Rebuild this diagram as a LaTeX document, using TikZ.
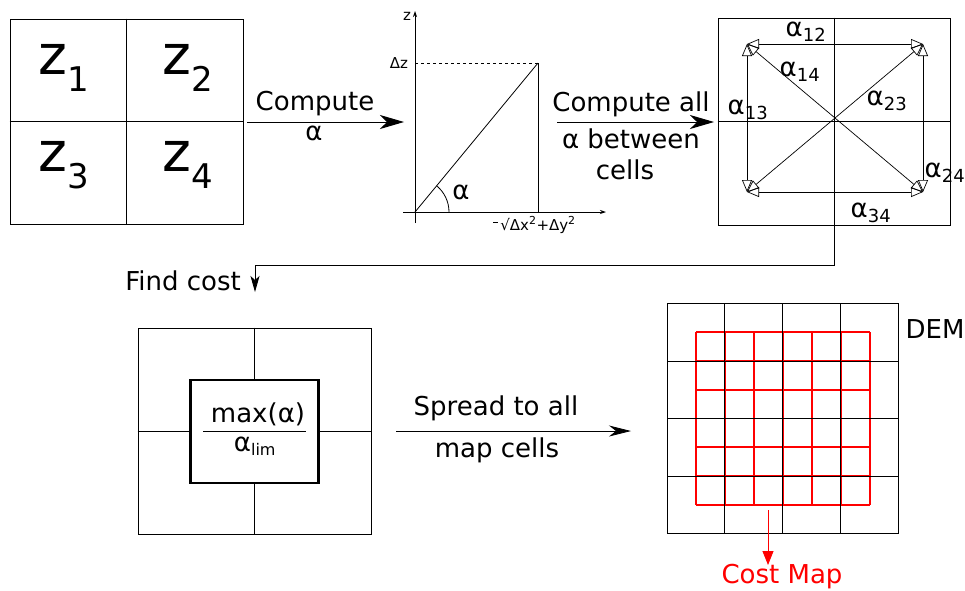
\documentclass[tikz,border=0pt]{standalone}
\usepackage{fontspec}
\setmainfont{DejaVu Sans}
\usetikzlibrary{arrows.meta,calc}
\newcommand{\fs}[1]{\fontsize{#1}{#1}\selectfont}
\begin{document}
\begin{tikzpicture}[x=1pt,y=-1pt,
  box/.style={draw,line width=0.9pt,inner sep=0pt,minimum width=#1},
  lbl/.style={font=\fs{26},inner sep=1pt},
  bigarrow/.style={line width=1pt,-{Stealth[length=24pt,width=14pt,inset=7pt]}},
  dbl/.style={line width=0.7pt,{Triangle[open,length=12pt,width=10pt]}-{Triangle[open,length=12pt,width=10pt]}},
  thin/.style={line width=0.8pt},
  redline/.style={draw=red,line width=1.8pt}]
\useasboundingbox (0,0) rectangle (965,590);
% ---------- top-left grid ----------
\node[box=233pt,minimum height=205pt] (g1) at (126.5,121.5) {};
\draw[thin] (g1.north) -- (g1.south);
\draw[thin] (g1.west) -- (g1.east);
\node[font=\fs{55},inner sep=0pt] (z1) at (64,68) {z\textsubscript{\fs{34}1}};
\node[font=\fs{55},inner sep=0pt] (z2) at (188,68) {z\textsubscript{\fs{34}2}};
\node[font=\fs{55},inner sep=0pt] (z3) at (64,165) {z\textsubscript{\fs{34}3}};
\node[font=\fs{55},inner sep=0pt] (z4) at (188,165) {z\textsubscript{\fs{34}4}};
% ---------- arrow 1 ----------
\coordinate (a1s) at (247,122);
\coordinate (a1e) at (404,122);
\draw[bigarrow] (a1s) -- (a1e);
\node[lbl] (t1) at (315,104) {Compute};
\node[lbl] (t2) at (314,133) {α};
% ---------- graph ----------
\coordinate (O) at (415,212);
\coordinate (P) at (538,63);
\coordinate (Px) at (538,212);
\coordinate (Pz) at (415,63);
\coordinate (zt) at (415,11);
\coordinate (zb) at (415,223);
\coordinate (xl) at (403,212);
\coordinate (xr) at (606,212);
\draw[thin,-{Stealth[length=6pt,width=4pt]}] (zb) -- (zt);
\draw[thin,-{Stealth[length=6pt,width=4pt]}] (xl) -- (xr);
\draw[thin,dashed] (Pz) -- (P);
\draw[thin] (P) -- (Px);
\draw[thin] (O) -- (P);
\draw[thin] ($(O)+(34,0)$) arc[start angle=0,end angle=-50.5,radius=34];
\node[font=\fs{15},inner sep=0pt] (zl) at (407,16) {z};
\node[font=\fs{15},inner sep=0pt] (dz) at (399,63) {Δz};
\node[font=\fs{26},inner sep=0pt] (al) at (461,192) {α};
\node[font=\fs{15},inner sep=0pt] (rad) at (538,225) {√Δx\textsuperscript{\fs{11}2}+Δy\textsuperscript{\fs{11}2}};
\draw[line width=0.6pt] (493,222) -- (498,222);
% ---------- arrow 2 ----------
\coordinate (a2s) at (557,122);
\coordinate (a2e) at (714,122);
\draw[bigarrow] (a2s) -- (a2e);
\node[lbl] (t3) at (631,104) {Compute all};
\node[lbl] (t4) at (631,139) {α between};
\node[lbl] (t5) at (625,170) {cells};
% ---------- top-right grid ----------
\node[box=232pt,minimum height=207pt] (g2) at (834,121.5) {};
\draw[thin] (g2.north) -- (g2.south);
\draw[thin] (g2.west) -- (g2.east);
\coordinate (c1) at (747,44);
\coordinate (c2) at (923,44);
\coordinate (c3) at (747,192);
\coordinate (c4) at (923,192);
\draw[dbl] (c1) -- (c2);
\draw[dbl] (c3) -- (c4);
\draw[dbl] (c1) -- (c3);
\draw[dbl] (c2) -- (c4);
\draw[dbl] (c1) -- (c4);
\draw[dbl] (c2) -- (c3);
\node[lbl] (a12) at (806,32) {α\textsubscript{\fs{18}12}};
\node[lbl] (a14) at (800,72) {α\textsubscript{\fs{18}14}};
\node[lbl] (a13) at (748,110) {α\textsubscript{\fs{18}13}};
\node[lbl] (a23) at (887,101) {α\textsubscript{\fs{18}23}};
\node[lbl] (a24) at (945,173) {α\textsubscript{\fs{18}24}};
\node[lbl] (a34) at (871,213) {α\textsubscript{\fs{18}34}};
% ---------- find cost connector ----------
\coordinate (fc) at (255,292);
\draw[thin,-{Stealth[length=16pt,width=9pt,inset=4pt]}] (g2.south) |- ($(fc)+(0,-27)$) -- (fc);
\node[lbl] (fct) at (183,281) {Find cost};
% ---------- bottom-left ----------
\node[box=233pt,minimum height=206pt] (g3) at (254.5,431) {};
\draw[thin] (g3.north) -- (g3.south);
\draw[thin] (g3.west) -- (g3.east);
\node[draw,line width=2.2pt,fill=white,minimum width=128pt,minimum height=103pt,inner sep=0pt] (cb) at (254.5,431.5) {};
\draw[thin] (203,431.5) -- (306,431.5);
\node[lbl] (mx) at (258,414) {max(α)};
\node[lbl] (al2) at (255,446) {α\textsubscript{\fs{16}lim}};
% ---------- arrow 3 ----------
\coordinate (a3s) at (396,431);
\coordinate (a3e) at (631,431);
\draw[thin,-{Stealth[length=22pt,width=11pt,inset=7pt]}] (a3s) -- (a3e);
\node[lbl] (t6) at (496,408) {Spread to all};
\node[lbl] (t7) at (497,450) {map cells};
% ---------- DEM ----------
\foreach \i in {0,...,6} {
  \draw[redline] ({696+\i*29},332) -- ({696+\i*29},505);
  \draw[redline] (696,{332+\i*28.83}) -- (870,{332+\i*28.83});
}
\node[box=231pt,minimum height=230pt,line width=1pt] (dem) at (782.5,418.5) {};
\foreach \i in {1,2,3} {
  \draw[line width=0.9pt] ({667+\i*57.75},303.5) -- ({667+\i*57.75},533.5);
  \draw[line width=0.9pt] (667,{303.5+\i*57.5}) -- (898,{303.5+\i*57.5});
}
\node[lbl] (deml) at (935,329) {DEM};
\coordinate (cm) at (768,510);
\coordinate (cmt) at (768,565);
\node[font=\fs{26},text=red,inner sep=1pt] (cml) at (782,577) {Cost Map};
\draw[red,line width=0.9pt,-{Triangle[length=14pt,width=11pt]}] (cm) -- (cmt);
\end{tikzpicture}
\end{document}
